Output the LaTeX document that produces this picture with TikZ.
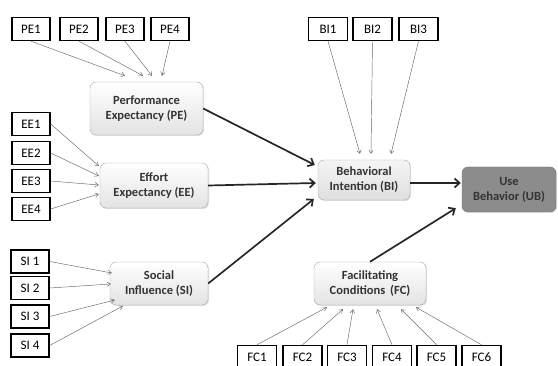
\documentclass[tikz,border=0pt]{standalone}
\usepackage{fontspec}
\setmainfont{Carlito}
\usetikzlibrary{arrows.meta,shadows}

\definecolor{lineGray}{HTML}{666666}
\definecolor{boxGray}{HTML}{A6A6A6}
\definecolor{ubFill}{HTML}{8C8C8C}
\definecolor{ubLine}{HTML}{707070}
\definecolor{txtGray}{HTML}{333333}

\tikzset{
  indicator/.style={draw=black, line width=1.4pt, minimum width=38pt,
    minimum height=23pt, inner sep=0pt, font=\fontsize{13}{14}\selectfont},
  construct/.style={draw=boxGray, rounded corners=6pt, align=center,
    top color=white, bottom color=gray!22, text=txtGray,
    font=\fontsize{12.5}{15}\selectfont\bfseries,
    drop shadow={opacity=0.25, shadow xshift=1pt, shadow yshift=-1pt}},
  indarrow/.style={-{Straight Barb[length=3.5pt,width=4.5pt]}, lineGray, line width=0.45pt},
  patharrow/.style={-{Straight Barb[length=5pt,width=9pt]}, black!85, line width=1.7pt}
}

\begin{document}
\begin{tikzpicture}[x=1pt, y=-1pt]
    % 1. Vùng hiển thị
    \useasboundingbox (0,0) rectangle (558,366);
    \clip (0,0) rectangle (558,366);

    % 2. Các khái niệm (construct)
    \node[construct, minimum width=113pt, minimum height=53pt] (pe) at (146.5,108.5) {Performance\\Expectancy (PE)};
    \node[construct, minimum width=108pt, minimum height=45pt] (ee) at (154,185.5) {Effort\\Expectancy (EE)};
    \node[construct, minimum width=98pt, minimum height=43pt] (si) at (159,283.5) {Social\\Influence (SI)};
    \node[construct, minimum width=92pt, minimum height=40pt, top color=gray!8, bottom color=gray!25] (bi) at (364,180) {Behavioral\\Intention (BI)};
    \node[construct, minimum width=94pt, minimum height=45pt, draw=ubLine, top color=ubFill, bottom color=ubFill] (ub) at (509,189.5) {Use\\Behavior (UB)};
    \node[construct, minimum width=112pt, minimum height=43pt] (fc) at (370,283.5) {Facilitating\\Conditions\ \,(FC)};

    % 3. Biến quan sát PE
    \node[indicator] (pe1) at (31,29) {PE1};
    \node[indicator] (pe2) at (79,29) {PE2};
    \node[indicator] (pe3) at (125,29) {PE3};
    \node[indicator] (pe4) at (170,29) {PE4};
    \draw[indarrow] (pe1.south) -- ([shift={(-21.5,-6)}]pe.north);
    \draw[indarrow] (pe2.south) -- ([shift={(-3.5,-6)}]pe.north);
    \draw[indarrow] (pe3.south) -- ([shift={(5.5,-6)}]pe.north);
    \draw[indarrow] (pe4.south) -- ([shift={(15.5,-6)}]pe.north);

    % 4. Biến quan sát EE
    \node[indicator] (ee1) at (31,124) {EE1};
    \node[indicator] (ee2) at (31,153) {EE2};
    \node[indicator] (ee3) at (31,181) {EE3};
    \node[indicator] (ee4) at (31,209) {EE4};
    \draw[indarrow] (ee1.east) -- ([shift={(-1,-19.5)}]ee.west);
    \draw[indarrow] (ee2.east) -- ([shift={(-1,-9.5)}]ee.west);
    \draw[indarrow] (ee3.east) -- ([shift={(-1,-0.5)}]ee.west);
    \draw[indarrow] (ee4.east) -- ([shift={(-1,8.5)}]ee.west);

    % 5. Biến quan sát SI
    \node[indicator] (si1) at (30,261.5) {SI 1};
    \node[indicator] (si2) at (30,288) {SI 2};
    \node[indicator] (si3) at (30,316.5) {SI 3};
    \node[indicator] (si4) at (30,345.5) {SI 4};
    \draw[indarrow] (si1.east) -- ([shift={(2,-10.5)}]si.west);
    \draw[indarrow] (si2.east) -- ([shift={(1,0.5)}]si.west);
    \draw[indarrow] (si3.east) -- ([shift={(5,16.5)}]si.west);
    \draw[indarrow] (si4.east) -- ([shift={(13,22.5)}]si.west);

    % 6. Biến quan sát BI
    \node[indicator, minimum width=39pt] (bi1) at (328,29) {BI1};
    \node[indicator, minimum width=39pt] (bi2) at (372.5,29) {BI2};
    \node[indicator, minimum width=39pt] (bi3) at (418.5,29) {BI3};
    \draw[indarrow] (bi1.south) -- ([shift={(-4,-6)}]bi.north);
    \draw[indarrow] (bi2.south) -- ([shift={(7,-6)}]bi.north);
    \draw[indarrow] (bi3.south) -- ([shift={(27,-6)}]bi.north);

    % 7. Biến quan sát FC
    \node[indicator, minimum width=39pt] (fc1) at (257,357) {FC1};
    \node[indicator, minimum width=39pt] (fc2) at (302.5,357) {FC2};
    \node[indicator, minimum width=39pt] (fc3) at (347,357) {FC3};
    \node[indicator, minimum width=39pt] (fc4) at (392,357) {FC4};
    \node[indicator, minimum width=39pt] (fc5) at (436.5,357) {FC5};
    \node[indicator, minimum width=39pt] (fc6) at (481.5,357) {FC6};
    \draw[indarrow] (fc1.north) -- ([shift={(-43,2)}]fc.south);
    \draw[indarrow] (fc2.north) -- ([shift={(-27,4)}]fc.south);
    \draw[indarrow] (fc3.north) -- ([shift={(-17,4)}]fc.south);
    \draw[indarrow] (fc4.north) -- ([shift={(7,4)}]fc.south);
    \draw[indarrow] (fc5.north) -- ([shift={(31,4)}]fc.south);
    \draw[indarrow] (fc6.north) -- ([shift={(46,2)}]fc.south);

    % 8. Các đường tác động chính
    \draw[patharrow] (pe.east) -- ([shift={(-3,-15)}]bi.west);
    \draw[patharrow] (ee.east) -- ([shift={(-2,3)}]bi.west);
    \draw[patharrow] (si.east) -- ([shift={(-4,19)}]bi.west);
    \draw[patharrow] ([shift={(0,3)}]bi.east) -- ([shift={(-1,-6.5)}]ub.west);
    \draw[patharrow] (fc.north) -- ([shift={(-6,-4)}]ub.south west);
\end{tikzpicture}
\end{document}
